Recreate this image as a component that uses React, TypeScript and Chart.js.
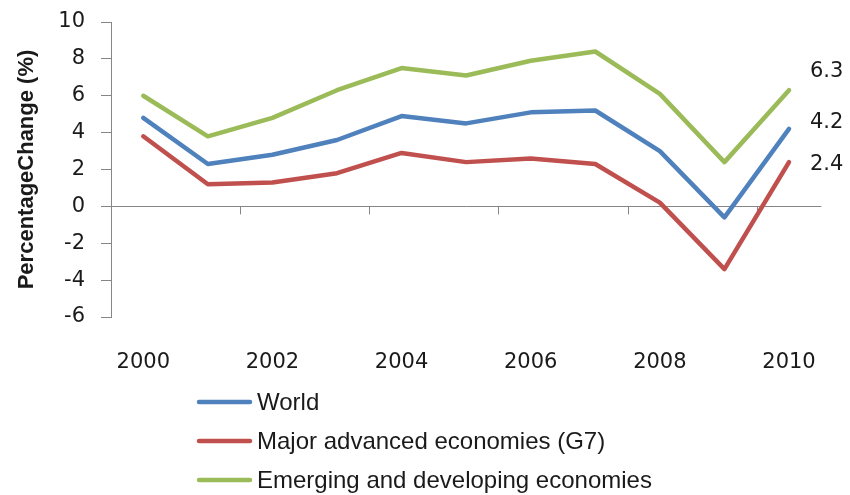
import { useEffect, useRef } from "react";
import { Chart, registerables } from "chart.js";

Chart.register(...registerables);

// Annual real GDP growth, 2000–2010
const years = ["2000", "2001", "2002", "2003", "2004", "2005", "2006", "2007", "2008", "2009", "2010"];
const world = [4.8, 2.3, 2.8, 3.6, 4.9, 4.5, 5.1, 5.2, 3.0, -0.6, 4.2];
const majorAdvanced = [3.8, 1.2, 1.3, 1.8, 2.9, 2.4, 2.6, 2.3, 0.2, -3.4, 2.4];
const emergingDeveloping = [6.0, 3.8, 4.8, 6.3, 7.5, 7.1, 7.9, 8.4, 6.1, 2.4, 6.3];
const seriesNames = ["World", "Major advanced economies (G7)", "Emerging and developing economies"];
const yMin = -6;
const yMax = 10;
const yStep = 2;
const yTitle = "PercentageChange (%)";

const AXIS = "#868686";
const TEXT = "#1a1a1a";
const NUM_FONT = "'DejaVu Sans', sans-serif";
const TEXT_FONT = "'Liberation Sans', Arial, sans-serif";

// Tick marks hanging below the zero line, every second category boundary
const zeroLineTicks = {
  id: "zeroLineTicks",
  beforeDatasetsDraw(chart: any) {
    const { ctx, scales } = chart;
    const x = scales.x;
    const y0 = scales.y.getPixelForValue(0);
    const half = (x.getPixelForValue(1) - x.getPixelForValue(0)) / 2;
    ctx.save();
    ctx.strokeStyle = AXIS;
    ctx.lineWidth = 1;
    ctx.beginPath();
    for (let i = 0; i < years.length; i += 2) {
      const px = Math.round(x.getPixelForValue(i) - half) + 0.5;
      ctx.moveTo(px, y0);
      ctx.lineTo(px, y0 + 8);
    }
    ctx.stroke();
    ctx.restore();
  },
};

// Value label beside the last point of each series
const endLabels = {
  id: "endLabels",
  afterDatasetsDraw(chart: any) {
    const { ctx } = chart;
    ctx.save();
    ctx.font = `21px ${NUM_FONT}`;
    ctx.fillStyle = TEXT;
    ctx.textAlign = "left";
    ctx.textBaseline = "middle";
    chart.data.datasets.forEach((ds: any, i: number) => {
      const meta = chart.getDatasetMeta(i);
      const last = meta.data.length - 1;
      const pt = meta.data[last];
      const v = ds.data[last] as number;
      ctx.fillText(v.toFixed(1), pt.x + 21, pt.y + (ds.endLabelShift || 0));
    });
    ctx.restore();
  },
};

// Legend stacked as a vertical list under the x-axis labels
const listLegend = {
  id: "listLegend",
  afterDraw(chart: any) {
    const { ctx } = chart;
    ctx.save();
    ctx.font = `24px ${TEXT_FONT}`;
    ctx.textAlign = "left";
    ctx.textBaseline = "middle";
    chart.data.datasets.forEach((ds: any, i: number) => {
      const y = 402 + i * 39;
      ctx.strokeStyle = ds.borderColor;
      ctx.lineWidth = 4.5;
      ctx.lineCap = "round";
      ctx.beginPath();
      ctx.moveTo(199, y);
      ctx.lineTo(250, y);
      ctx.stroke();
      ctx.fillStyle = TEXT;
      ctx.fillText(ds.label, 257, y + 1);
    });
    ctx.restore();
  },
};

export default function App() {
  const canvasRef = useRef<HTMLCanvasElement | null>(null);

  useEffect(() => {
    const canvas = canvasRef.current;
    if (!canvas) return;
    const line = (label: string, data: number[], color: string, shift: number) => ({
      label,
      data,
      borderColor: color,
      backgroundColor: color,
      borderWidth: 4.5,
      borderCapStyle: "round" as const,
      borderJoinStyle: "round" as const,
      pointRadius: 0,
      pointHoverRadius: 0,
      tension: 0,
      fill: false,
      endLabelShift: shift,
    });

    const chart = new Chart(canvas, {
      type: "line",
      data: {
        labels: years,
        datasets: [
          line(seriesNames[0], world, "#4F81BD", -6.5),
          line(seriesNames[1], majorAdvanced, "#C0504D", 2.5),
          line(seriesNames[2], emergingDeveloping, "#9BBB59", -19),
        ],
      },
      options: {
        animation: false,
        responsive: false,
        devicePixelRatio: 1,
        layout: { padding: { left: 0, top: 22, right: 28, bottom: 0 } },
        plugins: {
          legend: { display: false },
          tooltip: { enabled: false },
        },
        scales: {
          x: {
            type: "category",
            offset: true,
            grid: { display: false, drawTicks: false },
            border: { display: false },
            ticks: {
              autoSkip: false,
              maxRotation: 0,
              padding: 33,
              color: TEXT,
              font: { family: NUM_FONT, size: 21 },
              callback: (_v: any, i: number) => (i % 2 === 0 ? years[i] : ""),
            },
            afterFit: (s: any) => {
              s.height = 178;
            },
          },
          y: {
            min: yMin,
            max: yMax,
            ticks: {
              stepSize: yStep,
              padding: 16,
              color: TEXT,
              font: { family: NUM_FONT, size: 21 },
            },
            grid: {
              drawOnChartArea: true,
              tickLength: 10,
              tickColor: AXIS,
              lineWidth: 1,
              color: (c: any) => (c.tick && c.tick.value === 0 ? AXIS : "rgba(0,0,0,0)"),
            },
            border: { display: true, color: AXIS, width: 1 },
            title: {
              display: true,
              text: yTitle,
              color: TEXT,
              font: { family: TEXT_FONT, size: 22, weight: "bold" },
              padding: { top: 14, bottom: 0 },
            },
            afterFit: (s: any) => {
              s.width = 111;
              s.paddingTop = 12;
              s.paddingBottom = 12;
            },
          },
        },
      },
      plugins: [zeroLineTicks, endLabels, listLegend],
    });
    return () => chart.destroy();
  }, []);

  return (
    <div style={{ position: "absolute", left: 0, top: 0, width: 850, height: 495, background: "#fff" }}>
      <canvas ref={canvasRef} width={850} height={495} style={{ display: "block" }} />
    </div>
  );
}
